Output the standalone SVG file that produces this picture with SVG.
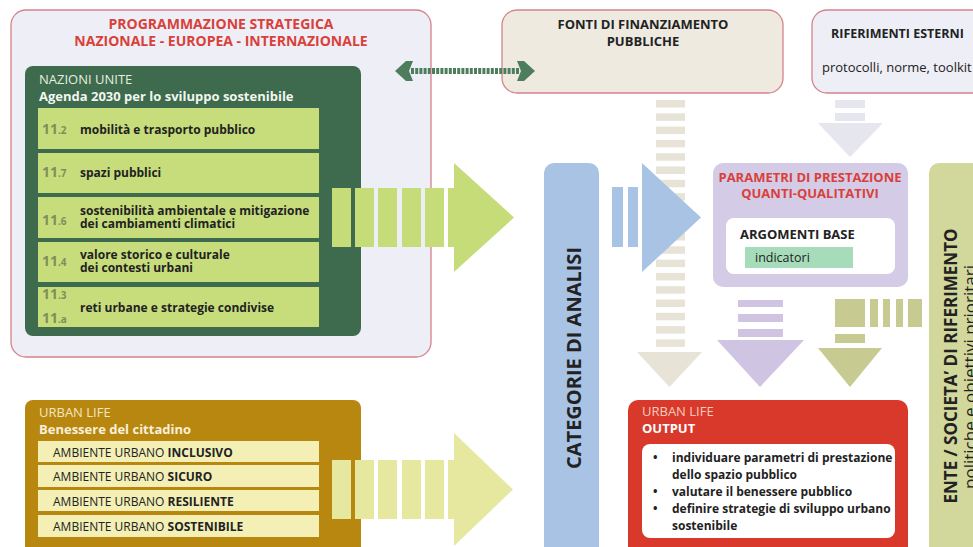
<svg xmlns="http://www.w3.org/2000/svg" width="973" height="547" viewBox="0 0 973 547">
<style>
text{font-family:"Open Sans","Noto Sans",sans-serif;}
.b{font-weight:bold;}
.red{fill:#d9403a;}
.dk{fill:#222;}
.lbl{font-size:12px;font-weight:bold;fill:#222;}
.num{font-size:14px;font-weight:bold;fill:#808d5a;}
.sub{font-size:10px;}
.row{fill:#c7dd7b;}
.yrow{fill:#f3efb5;}
.urb{font-size:12px;fill:#222;}
.gs{fill:#c6dc78;}
.ys{fill:#e5e89e;}
.bs{fill:#e7e4d7;}
.frame{stroke:#d4828a;stroke-width:1.3;}
</style>

<g id="programmazione">
<rect x="11" y="10" width="420" height="347" rx="15" fill="#eeeef6" class="frame"/>
<text x="221" y="29" text-anchor="middle" font-size="14" class="b red">PROGRAMMAZIONE STRATEGICA</text>
<text x="221" y="46" text-anchor="middle" font-size="14" class="b red">NAZIONALE - EUROPEA - INTERNAZIONALE</text>
</g>

<g id="nazioni-unite">
<rect x="25" y="66" width="336" height="270" rx="8" fill="#3e6a4e"/>
<text x="39" y="84" font-size="13" fill="#e6efdf">NAZIONI UNITE</text>
<text x="39" y="101" font-size="13" class="b" fill="#f2f6ee">Agenda 2030 per lo sviluppo sostenibile</text>
<rect class="row" x="38" y="108" width="281" height="41"/>
<rect class="row" x="38" y="153" width="281" height="40"/>
<rect class="row" x="38" y="197" width="281" height="41"/>
<rect class="row" x="38" y="242" width="281" height="40"/>
<rect class="row" x="38" y="287" width="281" height="40"/>
<text class="num" x="42" y="134">11<tspan class="sub">.2</tspan></text>
<text class="lbl" x="80" y="134">mobilità e trasporto pubblico</text>
<text class="num" x="42" y="177">11<tspan class="sub">.7</tspan></text>
<text class="lbl" x="80" y="177">spazi pubblici</text>
<text class="num" x="42" y="225">11<tspan class="sub">.6</tspan></text>
<text class="lbl" x="80" y="214.5">sostenibilità ambientale e mitigazione</text>
<text class="lbl" x="80" y="228">dei cambiamenti climatici</text>
<text class="num" x="42" y="266">11<tspan class="sub">.4</tspan></text>
<text class="lbl" x="80" y="258.5">valore storico e culturale</text>
<text class="lbl" x="80" y="272">dei contesti urbani</text>
<text class="num" x="42" y="299">11<tspan class="sub">.3</tspan></text>
<text class="num" x="42" y="323">11<tspan class="sub">.a</tspan></text>
<text class="lbl" x="80" y="312">reti urbane e strategie condivise</text>
</g>

<g id="urban-life">
<rect x="25" y="400" width="336" height="170" rx="8" fill="#b8870f"/>
<text x="39" y="417" font-size="13" fill="#f3e6c2">URBAN LIFE</text>
<text x="39" y="434" font-size="13" class="b" fill="#f7f0dc">Benessere del cittadino</text>
<rect class="yrow" x="38" y="441" width="281" height="21"/>
<rect class="yrow" x="38" y="465" width="281" height="22"/>
<rect class="yrow" x="38" y="490" width="281" height="21"/>
<rect class="yrow" x="38" y="515" width="281" height="22"/>
<text class="urb" x="53" y="457">AMBIENTE URBANO <tspan class="b">INCLUSIVO</tspan></text>
<text class="urb" x="53" y="481">AMBIENTE URBANO <tspan class="b">SICURO</tspan></text>
<text class="urb" x="53" y="506">AMBIENTE URBANO <tspan class="b">RESILIENTE</tspan></text>
<text class="urb" x="53" y="531">AMBIENTE URBANO <tspan class="b">SOSTENIBILE</tspan></text>
</g>

<g id="fonti">
<rect x="502" y="10" width="281" height="83" rx="15" fill="#eeeae0" class="frame"/>
<text x="643" y="29" text-anchor="middle" font-size="13" class="b dk">FONTI DI FINANZIAMENTO</text>
<text x="643" y="46" text-anchor="middle" font-size="13" class="b dk">PUBBLICHE</text>
</g>

<g id="riferimenti">
<rect x="812" y="10" width="180" height="83" rx="15" fill="#eeeef6" class="frame"/>
<text x="831" y="38" font-size="12.5" class="b dk">RIFERIMENTI ESTERNI</text>
<text x="822" y="72" font-size="13" class="dk">protocolli, norme, toolkit</text>
</g>

<g id="categorie">
<rect x="544" y="163" width="55" height="400" rx="10" fill="#a9c3e5"/>
<text transform="translate(581,358) rotate(-90)" text-anchor="middle" font-size="20" class="b dk">CATEGORIE DI ANALISI</text>
</g>

<g id="ente">
<rect x="929" y="163" width="60" height="400" rx="10" fill="#d2d79c"/>
<text transform="translate(957,366) rotate(-90)" text-anchor="middle" font-size="17" class="b dk">ENTE / SOCIETA’ DI RIFERIMENTO</text>
<text transform="translate(976,377) rotate(-90)" text-anchor="middle" font-size="17" class="dk">politiche e obiettivi prioritari</text>
</g>

<g id="connectors">
<g class="bs">
<rect x="656" y="100" width="29" height="7.5"/><rect x="656" y="113.3" width="29" height="7.5"/><rect x="656" y="126.6" width="29" height="7.5"/><rect x="656" y="139.9" width="29" height="7.5"/><rect x="656" y="153.2" width="29" height="7.5"/><rect x="656" y="166.5" width="29" height="7.5"/><rect x="656" y="179.8" width="29" height="7.5"/><rect x="656" y="193.1" width="29" height="7.5"/><rect x="656" y="206.4" width="29" height="7.5"/><rect x="656" y="219.7" width="29" height="7.5"/><rect x="656" y="233" width="29" height="7.5"/><rect x="656" y="246.3" width="29" height="7.5"/><rect x="656" y="259.6" width="29" height="7.5"/><rect x="656" y="272.9" width="29" height="7.5"/><rect x="656" y="286.2" width="29" height="7.5"/><rect x="656" y="299.5" width="29" height="7.5"/><rect x="656" y="312.8" width="29" height="7.5"/><rect x="656" y="326.1" width="29" height="7.5"/><rect x="656" y="339.4" width="29" height="7.5"/>
<polygon points="637,352 702,352 669.5,387"/>
</g>
<g fill="#e6e6ef">
<rect x="835" y="100" width="30" height="8"/><rect x="835" y="113" width="30" height="8"/>
<polygon points="818,123 883,123 850,157"/>
</g>
<g class="gs">
<rect x="332" y="188" width="19" height="59"/><rect x="355" y="188" width="19" height="59"/><rect x="378" y="188" width="19" height="59"/><rect x="402" y="188" width="19" height="59"/><rect x="425" y="188" width="19" height="59"/>
<polygon points="448,188 454,188 454,163 514,217.5 454,272 454,247 448,247"/>
</g>
<g class="ys">
<rect x="332" y="460" width="19" height="59"/><rect x="355" y="460" width="19" height="59"/><rect x="378" y="460" width="19" height="59"/><rect x="402" y="460" width="19" height="59"/><rect x="425" y="460" width="19" height="59"/>
<polygon points="448,460 454,460 454,433 513,489.5 454,546 454,519 448,519"/>
</g>
<g fill="#a9c3e5">
<rect x="612" y="187" width="11" height="60"/><rect x="628" y="187" width="10" height="60"/>
<polygon points="642,163 701,217.5 642,272"/>
</g>
<g fill="#cfc5e3">
<rect x="738" y="300" width="45" height="7"/><rect x="738" y="314" width="45" height="8"/><rect x="738" y="329" width="45" height="8"/>
<polygon points="717,340 804,340 760,387"/>
</g>
<g fill="#c7cb91">
<rect x="835" y="299" width="30" height="28"/>
<rect x="870" y="299" width="8" height="28"/><rect x="883" y="299" width="7" height="28"/><rect x="896" y="299" width="7" height="28"/><rect x="908" y="299" width="14" height="28"/>
<rect x="835" y="334" width="30" height="9"/>
<polygon points="818,348 882,348 850,387"/>
</g>
<g fill="#4d7d5d">
<line x1="411" y1="71" x2="519" y2="71" stroke="#4d7d5d" stroke-width="6" stroke-dasharray="3 1.2"/>
<polygon points="395,71 406,61 413,61 409,71 413,81 406,81"/>
<polygon points="535,71 524,61 517,61 521,71 517,81 524,81"/>
</g>
</g>

<g id="parametri">
<rect x="713" y="163" width="195" height="124" rx="10" fill="#d4cbe6"/>
<text x="810" y="182" text-anchor="middle" font-size="13" class="b red">PARAMETRI DI PRESTAZIONE</text>
<text x="810" y="198" text-anchor="middle" font-size="13" class="b red">QUANTI-QUALITATIVI</text>
<rect x="726" y="218" width="169" height="56" rx="8" fill="#ffffff"/>
<text x="740" y="239" font-size="13" class="b dk">ARGOMENTI BASE</text>
<rect x="745" y="247" width="108" height="21" fill="#a6dcb9"/>
<text x="755" y="262" font-size="12.5" class="dk">indicatori</text>
</g>

<g id="output">
<rect x="628" y="400" width="280" height="170" rx="10" fill="#d8392b"/>
<text x="642" y="416" font-size="13" fill="#f6cbbd">URBAN LIFE</text>
<text x="642" y="433" font-size="13" class="b" fill="#ffffff">OUTPUT</text>
<rect x="642" y="444" width="253" height="94" rx="8" fill="#ffffff"/>
<g font-size="12" class="b dk">
<text x="653" y="462">•</text>
<text x="672" y="462">individuare parametri di prestazione</text>
<text x="672" y="479">dello spazio pubblico</text>
<text x="653" y="496">•</text>
<text x="672" y="496">valutare il benessere pubblico</text>
<text x="653" y="513">•</text>
<text x="672" y="513">definire strategie di sviluppo urbano</text>
<text x="672" y="530">sostenibile</text>
</g>
</g>
</svg>
